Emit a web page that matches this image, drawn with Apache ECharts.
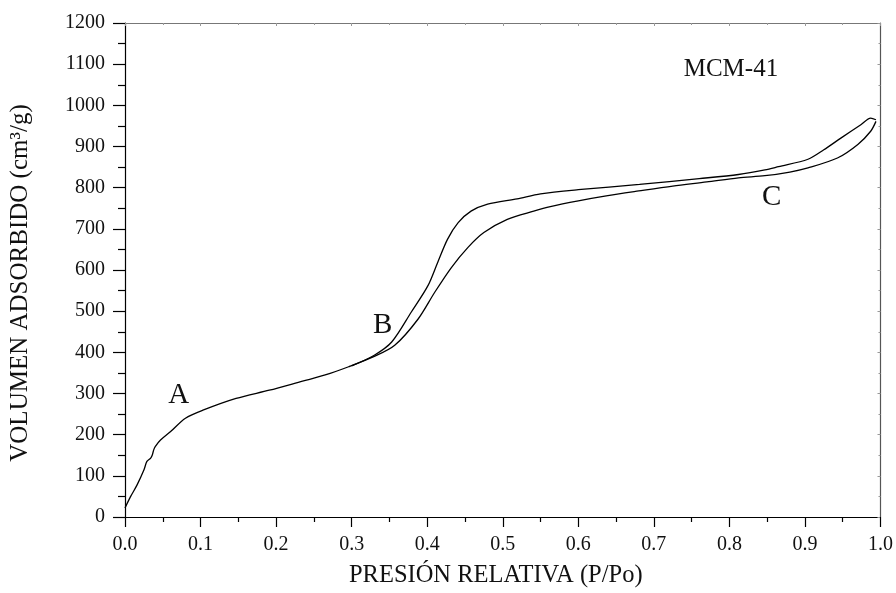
<!DOCTYPE html>
<html>
<head>
<meta charset="utf-8">
<script src="https://cdn.jsdelivr.net/npm/echarts@6/dist/echarts.min.js"></script>
<style>
html,body{margin:0;padding:0;background:#fff;}
#chart{width:896px;height:593px;}
</style>
</head>
<body>
<div id="chart"></div>
<script>
// Adsorption branch (lower)
var adsX = [0.000,0.0075,0.016,0.025,0.029,0.034,0.036,0.038,0.040,0.047,0.060,0.080,0.104,0.147,0.191,0.235,0.265,0.296,0.330,0.357,0.388,0.410,0.432,0.454,0.475,0.506,0.541,0.563,0.600,0.637,0.680,0.725,0.770,0.812,0.847,0.880,0.904,0.943,0.970,0.987,0.994];
var adsY = [22,50,78,114,135,143,150,163,171,187,207,240,260,288,308,330,345,365,390,417,481,546,606,655,691,723,743,754,768,780,792,804,814,824,829,838,848,872,905,937,961];
// Desorption branch (upper)
var desX = [0.994,0.987,0.974,0.948,0.925,0.904,0.865,0.847,0.812,0.760,0.681,0.600,0.550,0.519,0.480,0.458,0.441,0.427,0.414,0.401,0.379,0.353,0.330,0.300];
var desY = [965,969,953,921,892,869,851,843,832,822,808,795,785,773,760,743,715,675,619,562,498,425,393,367];
// Axis ticks
var xMin = 0, xMax = 1, xStep = 0.1;
var yMin = 0, yMax = 1200, yStep = 100;
// Annotations
var noteText = ['A','B','C','MCM-41'];
var noteX = [0.071,0.341,0.856,0.802];
var noteY = [295,465,777,1086];

var FONT = '"Liberation Serif", "Times New Roman", serif';
function pairs(xs, ys){ return xs.map(function(x,i){ return [x, ys[i]]; }); }

var chart = echarts.init(document.getElementById('chart'), null, {renderer:'canvas'});
var notes = noteText.map(function(t,i){
  return {coord:[noteX[i], noteY[i]], value:t,
    label:{fontSize: t.length > 1 ? 25 : 29}};
});
chart.setOption({
  animation:false,
  backgroundColor:'#fff',
  grid:{left:121, right:13, top:23, bottom:74},
  xAxis:[{
    type:'value', min:xMin, max:xMax, interval:xStep, position:'bottom',
    name:'PRESIÓN RELATIVA (P/Po)', nameLocation:'middle', nameGap:46,
    nameTextStyle:{fontFamily:FONT, fontSize:24.5, color:'#111', padding:[0,14,0,0]},
    axisLine:{show:true, onZero:false, lineStyle:{color:'#000', width:1.2}},
    axisTick:{show:true, length:10, inside:false, lineStyle:{color:'#000', width:1.2}},
    minorTick:{show:true, splitNumber:2, length:5, lineStyle:{color:'#000', width:1.2}},
    axisLabel:{fontFamily:FONT, fontSize:20, color:'#111', margin:18,
      formatter:function(v){return v.toFixed(1);}},
    splitLine:{show:false}
  },{
    type:'value', min:xMin, max:xMax, interval:xStep, position:'top',
    axisLine:{show:true, onZero:false, lineStyle:{color:'#777', width:1.2}},
    axisTick:{show:true, inside:true, length:3, lineStyle:{color:'#999'}},
    minorTick:{show:true, splitNumber:2, length:2, lineStyle:{color:'#999'}},
    axisLabel:{show:false}, splitLine:{show:false}
  }],
  yAxis:[{
    type:'value', min:yMin, max:yMax, interval:yStep, position:'left',
    name:'VOLUMEN ADSORBIDO (cm³/g)', nameLocation:'middle', nameGap:92, nameRotate:90,
    nameTextStyle:{fontFamily:FONT, fontSize:25, color:'#111', padding:[0,26,0,0]},
    axisLine:{show:true, onZero:false, lineStyle:{color:'#000', width:1.2}},
    axisTick:{show:true, length:12, inside:false, lineStyle:{color:'#000', width:1.2}},
    minorTick:{show:true, splitNumber:2, length:7, lineStyle:{color:'#000', width:1.2}},
    axisLabel:{fontFamily:FONT, fontSize:20, color:'#111', margin:20,
      formatter:function(v){return String(v);}},
    splitLine:{show:false}
  },{
    type:'value', min:yMin, max:yMax, interval:yStep, position:'right',
    axisLine:{show:true, onZero:false, lineStyle:{color:'#555', width:1.2}},
    axisTick:{show:true, inside:true, length:3, lineStyle:{color:'#999'}},
    minorTick:{show:true, splitNumber:2, length:2, lineStyle:{color:'#999'}},
    axisLabel:{show:false}, splitLine:{show:false}
  }],
  series:[{
    type:'line', name:'Adsorción', data:pairs(adsX, adsY),
    showSymbol:false, smooth:0.3, lineStyle:{color:'#000', width:1.3},
    markPoint:{
      symbol:'circle', symbolSize:0,
      label:{show:true, position:'inside', fontFamily:FONT, color:'#111',
        formatter:function(p){return p.value;}},
      data:notes
    }
  },{
    type:'line', name:'Desorción', data:pairs(desX, desY),
    showSymbol:false, smooth:0.3, lineStyle:{color:'#000', width:1.3}
  }]
});
</script>
</body>
</html>
